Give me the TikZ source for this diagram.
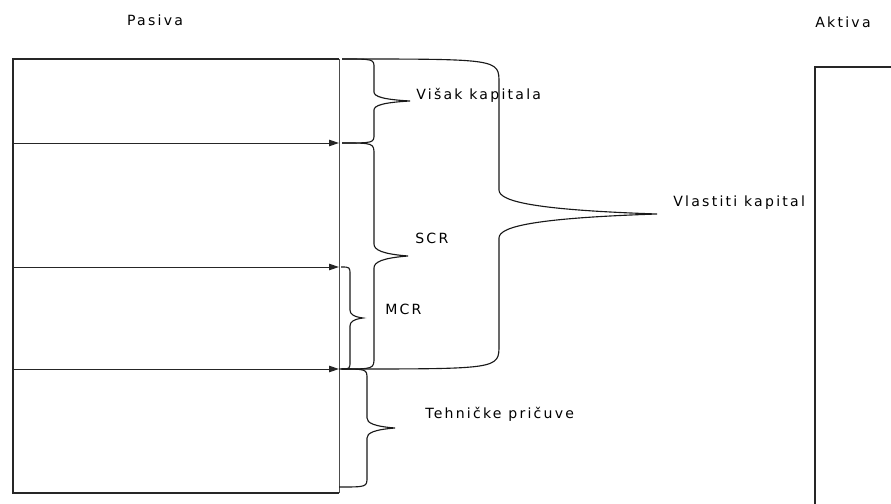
\documentclass[tikz,border=0pt]{standalone}
\usepackage{fontspec}
\setmainfont{DejaVu Sans}[LetterSpace=16]
\usetikzlibrary{arrows.meta}

% curly brace: x start, x stem, x tip, y top, y bottom, bend
\newcommand\curlybr[6]{%
  \pgfmathsetmacro\ym{(#4+#5)/2}
  \draw[brc] (#1,#4) .. controls (#2,#4) .. (#2,{#4+#6})
    -- (#2,{\ym-#6}) .. controls (#2,{\ym-#6/2}) and ({#2+(#3-#2)/4},{\ym-#6/6}) .. (#3,\ym)
    .. controls ({#2+(#3-#2)/4},{\ym+#6/6}) and (#2,{\ym+#6/2}) .. (#2,{\ym+#6})
    -- (#2,{#5-#6}) .. controls (#2,#5) .. (#1,#5);}

\tikzset{
  box/.style={line width=0.8pt,draw=black!85},
  arr/.style={line width=0.7pt,draw=black!85,-{Triangle[length=7pt,width=4.5pt]}},
  brc/.style={line width=0.8pt,draw=black!90},
  lbl/.style={font=\fontsize{10}{12}\selectfont,inner sep=0pt}
}

\begin{document}
\begin{tikzpicture}[x=0.025cm,y=-0.025cm]
    \useasboundingbox (0,0) rectangle (891,504);

    % Titles
    \node[lbl] (pasiva) at (155,20) {Pasiva};
    \node[lbl] (aktiva) at (843,22) {Aktiva};

    % Pasiva box with layers
    \draw[box] (339,493) -- (13,493) -- (13,59) -- (339,59);
    \draw[line width=0.6pt,draw=black!70] (339,59) -- (339,493);
    \coordinate (l1) at (13,143);  \coordinate (r1) at (339,143);
    \coordinate (l2) at (13,267);  \coordinate (r2) at (339,267);
    \coordinate (l3) at (13,369);  \coordinate (r3) at (339,369);
    \draw[arr] (l1) -- (r1);
    \draw[arr] (l2) -- (r2);
    \draw[arr] (l3) -- (r3);

    % Aktiva box (cut by the page)
    \draw[box] (891,67) -- (815,67) -- (815,504);

    % Braces
    \curlybr{342}{374}{410}{59}{143}{9}
    \curlybr{342}{374}{408}{143}{369}{12}
    \curlybr{341}{350}{363}{267}{369}{8}
    \curlybr{339}{367}{395}{369}{487}{10}
    \curlybr{342}{499}{657}{59}{369}{24}

    % Labels
    \node[lbl,anchor=west] (visak) at (416,95) {Višak kapitala};
    \node[lbl,anchor=west] (scr) at (415,238) {SCR};
    \node[lbl,anchor=west] (mcr) at (385,309) {MCR};
    \node[lbl,anchor=west] (tp) at (425,414) {Tehničke pričuve};
    \node[lbl,anchor=west] (vk) at (673,203) {Vlastiti kapital};
\end{tikzpicture}
\end{document}
